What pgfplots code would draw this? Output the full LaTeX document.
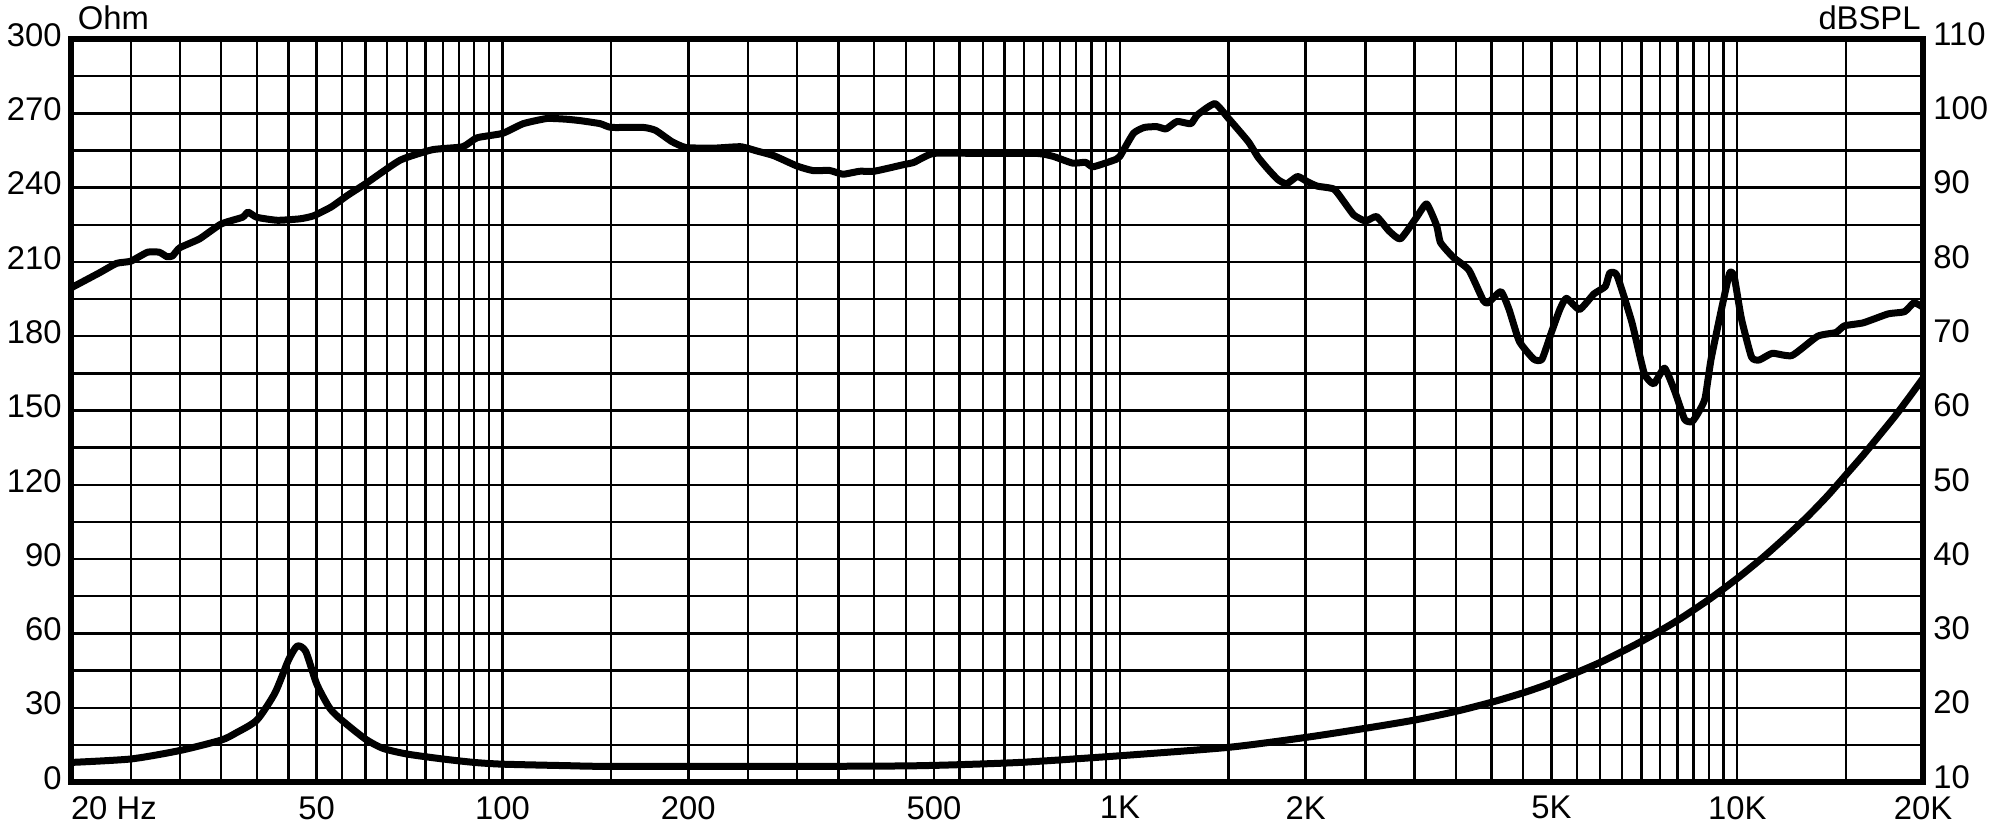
\documentclass[border=0pt]{standalone}
\usepackage{fontspec}
\setmainfont{Liberation Sans}
\usepackage{pgfplots}
\pgfplotsset{compat=1.18}

\begin{document}
\begin{tikzpicture}
% impedance, left axis (Ohm)
\begin{axis}[
  name=main,
  scale only axis, width=926pt, height=371.5pt,
  xmode=log, xmin=20, xmax=20000,
  ymin=0, ymax=300,
  major tick length=0pt, minor tick length=0pt,
  tick label style={font=\fontsize{16.4}{19}\selectfont},
  axis line style={line width=3pt},
  ytick={0,30,...,300},
  yticklabels={0,30,60,90,120,150,180,210,240,270,300},
  minor ytick={15,45,...,285},
  xtick={20,50,100,200,500,1000,2000,5000,10000,20000},
  xticklabels={\makebox[0pt][l]{20 Hz},50,100,200,500,1K,2K,5K,10K,20K},
  minor xtick={25,30,...,95,150,250,300,...,950,1500,2500,3000,...,9500,15000},
  grid=both,
  major grid style={black, line width=1.2pt},
  minor grid style={black, line width=1.2pt},
  xticklabel style={inner sep=0pt, anchor=north, yshift=-7pt},
  yticklabel style={inner sep=0pt, anchor=east, xshift=-4.5pt, yshift=2pt},
]
\addplot[black, line width=3.5pt, line join=round, line cap=round, smooth, tension=0.4] table {
f z
20 7.9
25 9.3
30 12.7
35 16.9
37 19.8
40 25
42.8 36
45 49.2
46.5 54.9
48 52.7
50 39.6
52.5 29.8
55 24.8
60 17.3
64 13.6
70 11.3
80 9.3
90 7.9
100 7.2
127 6.6
150 6.3
300 6.3
450 6.5
550 7.0
700 8.0
1000 10.6
1500 14.0
2000 18.0
2500 21.7
3000 25.0
3500 28.5
4000 32.2
4500 36.0
5000 40.0
6000 48.3
7000 56.8
8000 65.2
9000 73.7
10000 82.2
11000 90.6
12000 99.0
13000 107.2
14000 115.5
15000 124.0
16000 132.0
17000 140.0
18000 147.6
19000 155.4
20000 163.0
};
\end{axis}

% SPL, right axis (dBSPL)
\begin{axis}[
  scale only axis, width=926pt, height=371.5pt,
  xmode=log, xmin=20, xmax=20000,
  ymin=10, ymax=110,
  major tick length=0pt, minor tick length=0pt,
  tick label style={font=\fontsize{16.4}{19}\selectfont},
  axis line style={line width=3pt},
  axis x line=none,
  axis y line*=right,
  ytick={10,20,...,110},
  yticklabels={10,20,30,40,50,60,70,80,90,100,110},
  yticklabel style={inner sep=0pt, anchor=west, xshift=5pt, yshift=2.5pt},
]
\addplot[black, line width=3.5pt, line join=round, line cap=round, smooth, tension=0.3] table {
f spl
20 76.5
22.2 78.5
23.7 79.8
25 80.1
26.6 81.3
27.8 81.3
28.6 80.7
29.2 80.8
30 81.9
32.3 83.1
35 85.1
37.9 86.0
38.7 86.7
40 86.0
43.2 85.6
47 85.8
49.4 86.2
52.8 87.4
56.2 89.0
60.2 90.6
68.3 93.7
77 95.1
86.2 95.5
90.9 96.7
100 97.3
108 98.6
118 99.3
127 99.2
134 99.0
144 98.6
150 98.1
169 98.1
177 97.7
188 96.2
198 95.4
219 95.3
243 95.5
259 94.9
275 94.3
300 92.9
318 92.3
339 92.3
356 91.8
379 92.2
400 92.2
447 93.1
464 93.4
499 94.6
595 94.6
734 94.6
780 94.2
838 93.3
880 93.4
905 92.8
986 93.8
1000 94.2
1052 97.3
1096 98.1
1148 98.2
1188 97.9
1238 98.9
1303 98.6
1336 99.8
1425 101.3
1500 99.3
1614 96.2
1674 94.1
1737 92.5
1802 91.1
1862 90.5
1940 91.5
2012 90.8
2088 90.2
2222 89.8
2306 88.1
2394 86.3
2500 85.5
2605 86.1
2727 84.2
2848 83.1
3024 86.0
3140 87.8
3259 84.9
3307 82.6
3470 80.6
3676 78.9
3880 74.8
3952 74.5
4142 76.0
4270 73.6
4437 69.3
4684 66.9
4828 66.9
5000 70.5
5160 73.6
5288 75.1
5554 73.6
5862 75.7
6115 76.7
6216 78.5
6385 78.2
6750 71.9
7071 65.0
7327 63.6
7627 65.7
7922 62.6
8220 58.8
8450 58.5
8649 59.7
8868 61.6
9071 66.9
9428 73.6
9722 78.5
9889 78.0
10156 72.4
10547 67.2
10860 66.8
11400 67.7
12266 67.4
13500 70.0
14450 70.5
14920 71.4
16000 71.8
17556 73.0
18667 73.3
19333 74.5
20000 73.9
};
\end{axis}
\node[anchor=base west, inner sep=0pt, font=\fontsize{16.4}{19}\selectfont]
  at ([xshift=3.2pt, yshift=5pt]main.north west) {Ohm};
\node[anchor=base east, inner sep=0pt, font=\fontsize{16.4}{19}\selectfont]
  at ([xshift=-1pt, yshift=5pt]main.north east) {dBSPL};
\path (-35.5pt,-22pt) rectangle (962.5pt,391pt);
\end{tikzpicture}
\end{document}
